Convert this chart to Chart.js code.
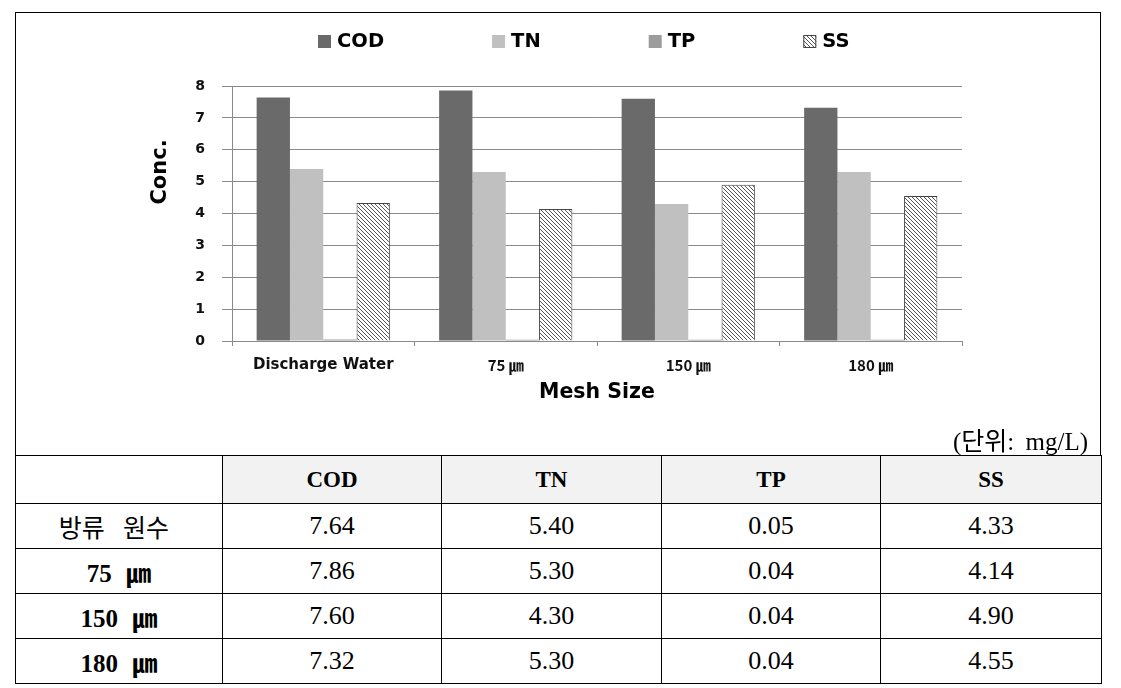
<!DOCTYPE html>
<html>
<head>
<meta charset="utf-8">
<script src="https://cdn.jsdelivr.net/npm/chart.js@4.4.1/dist/chart.umd.min.js"></script>
<style>
  body { margin: 0; background: #fff; }
  #wrap { position: absolute; left: 15px; top: 12px; width: 1086px; }
  #chartBox { position: relative; width: 1084px; height: 442px; border: 1px solid #000; border-bottom: none; }
  #unit { position: absolute; right: 12px; top: 408px; font: 25px 'Liberation Serif', 'Noto Sans CJK KR', serif; color: #000; word-spacing: 5px; }
  table { border-collapse: collapse; width: 1086px; table-layout: fixed; font-family: 'Liberation Serif', 'Noto Sans CJK KR', serif; color: #000; }
  td, th { border: 1px solid #000; text-align: center; padding: 0; }
  th { height: 47px; font-size: 23px; font-weight: bold; background: #f2f2f2; }
  th.blank { background: #fff; }
  td { height: 44px; font-size: 26px; }
  td.rowhead { font-weight: bold; font-size: 25px; word-spacing: 8px; }
  td.rowhead.kr { font-weight: normal; font-size: 25px; word-spacing: 12px; padding-right: 10px; }
</style>
</head>
<body>
<div id="wrap">
  <div id="chartBox">
    <canvas id="concChart" width="1084" height="442"></canvas>
    <div id="unit">(단위: mg/L)</div>
  </div>
  <table id="concTable">
    <colgroup>
      <col style="width:207px"><col style="width:219px"><col style="width:220px"><col style="width:219px"><col style="width:221px">
    </colgroup>
  </table>
</div>
<script>
const categories = ['Discharge Water', '75 ㎛', '150 ㎛', '180 ㎛'];
const rowLabels = ['방류 원수', '75 ㎛', '150 ㎛', '180 ㎛'];
const seriesNames = ['COD', 'TN', 'TP', 'SS'];
const codValues = [7.64, 7.86, 7.60, 7.32];
const tnValues = [5.40, 5.30, 4.30, 5.30];
const tpValues = [0.05, 0.04, 0.04, 0.04];
const ssValues = [4.33, 4.14, 4.90, 4.55];
const yMin = 0;
const yMax = 8;
const yStep = 1;
const yTitle = 'Conc.';
const xTitle = 'Mesh Size';

// hatch for SS bars
function makeHatch() {
    const c = document.createElement('canvas');
    c.width = 4;
    c.height = 4;
    const g = c.getContext('2d');
    g.fillStyle = '#ffffff';
    g.fillRect(0, 0, 4, 4);
    g.fillStyle = '#555555';
    for (let i = 0; i < 4; i++) {
        g.fillRect(i, i, 1, 1);
    }
    return g.createPattern(c, 'repeat');
}
const hatch = makeHatch();

// legend drawn by hand so the gaps between items can be wide,
// y title too since it sits above the middle of the axis in the original
const legendStartX = 302;
const legendY = 28;
const legendGap = 108;
const yTitleX = 145;
const yTitleY = 159;
const customLegend = {
    id: 'customLegend',
    afterDraw(chart) {
        const ctx = chart.ctx;
        ctx.save();
        ctx.font = 'bold 19.5px "DejaVu Sans"';
        ctx.textBaseline = 'middle';
        let x = legendStartX;
        chart.data.datasets.forEach((ds) => {
            ctx.fillStyle = ds.backgroundColor;
            ctx.fillRect(x, legendY - 6, 13, 13);
            if (ds.borderWidth) {
                ctx.strokeStyle = ds.borderColor;
                ctx.lineWidth = 1;
                ctx.strokeRect(x + 0.5, legendY - 5.5, 12, 12);
            }
            ctx.fillStyle = '#000';
            ctx.fillText(ds.label, x + 19, legendY + 1);
            x += 19 + ctx.measureText(ds.label).width + legendGap;
        });

        ctx.font = 'bold 21px "DejaVu Sans"';
        ctx.textAlign = 'center';
        ctx.translate(yTitleX, yTitleY);
        ctx.rotate(-Math.PI / 2);
        ctx.fillText(yTitle, 0, 0);
        ctx.restore();
    }
};

const gridGray = '#8a8a8a';
const boldFont = (size, family) => ({ family: family || 'DejaVu Sans', weight: 'bold', size: size });

const ctx = document.getElementById('concChart').getContext('2d');
const chart = new Chart(ctx, {
    type: 'bar',
    data: {
        labels: categories,
        datasets: [
            { label: seriesNames[0], data: codValues, backgroundColor: '#6a6a6a', borderWidth: 0 },
            { label: seriesNames[1], data: tnValues, backgroundColor: '#c0c0c0', borderWidth: 0 },
            { label: seriesNames[2], data: tpValues, backgroundColor: '#9c9c9c', borderWidth: 0 },
            { label: seriesNames[3], data: ssValues, backgroundColor: hatch, borderColor: '#444444', borderWidth: 1 }
        ]
    },
    options: {
        responsive: false,
        animation: false,
        devicePixelRatio: 1,
        categoryPercentage: 0.73,
        barPercentage: 1.0,
        layout: { padding: { left: 133, right: 138, top: 73, bottom: 50 } },
        plugins: {
            legend: { display: false },
            tooltip: { enabled: false }
        },
        scales: {
            x: {
                grid: { display: true, drawOnChartArea: false, drawTicks: true, tickLength: 5, color: gridGray, offset: true },
                border: { display: true, color: gridGray },
                ticks: {
                    // the micro sign glyph is tiny in DejaVu, use the CJK font for those labels
                    font: (c) => categories[c.index] && categories[c.index].includes('㎛')
                        ? boldFont(15, 'Noto Sans CJK KR') : boldFont(15),
                    color: '#111',
                    padding: 10,
                    maxRotation: 0
                },
                title: { display: true, text: xTitle, font: boldFont(20.5), color: '#000', padding: { top: 0, bottom: 0 } },
                afterFit(scale) { scale.height = 64; }
            },
            y: {
                min: yMin,
                max: yMax,
                ticks: { stepSize: yStep, font: boldFont(14), color: '#111', padding: 17 },
                grid: { color: gridGray, tickLength: 10 },
                border: { display: true, color: gridGray },
                afterFit(scale) { scale.width = 83; }
            }
        }
    },
    plugins: [customLegend]
});

// table under the chart, same arrays
const table = document.getElementById('concTable');
const head = document.createElement('tr');
head.innerHTML = '<th class="blank"></th>' + seriesNames.map((n) => '<th>' + n + '</th>').join('');
table.appendChild(head);
rowLabels.forEach((name, i) => {
    const tr = document.createElement('tr');
    const cls = i === 0 ? 'rowhead kr' : 'rowhead';
    const vals = [codValues[i], tnValues[i], tpValues[i], ssValues[i]];
    tr.innerHTML = '<td class="' + cls + '">' + name + '</td>' + vals.map((v) => '<td>' + v.toFixed(2) + '</td>').join('');
    table.appendChild(tr);
});
</script>
</body>
</html>
